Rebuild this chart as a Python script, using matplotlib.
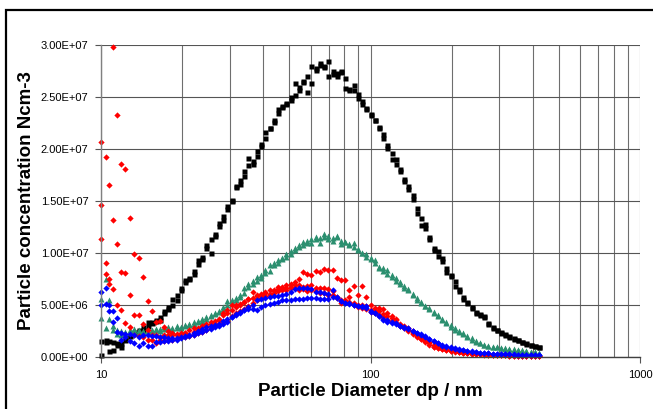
import numpy as np
import matplotlib.pyplot as plt
from matplotlib.ticker import FixedLocator, FuncFormatter, NullFormatter
from matplotlib.patches import Rectangle

plt.rcParams['font.family'] = ['Liberation Sans', 'DejaVu Sans']

# SMPS channel mid-point diameters (nm)
diameter = [
    10.0, 10.4, 10.7, 11.1, 11.5, 11.9, 12.3, 12.8, 13.3, 13.8,
    14.3, 14.9, 15.4, 16.0, 16.5, 17.1, 17.8, 18.4, 19.1, 19.8,
    20.5, 21.3, 22.1, 22.9, 23.7, 24.6, 25.5, 26.4, 27.4, 28.4,
    29.4, 30.5, 31.6, 32.8, 34.0, 35.2, 36.5, 37.9, 39.2, 40.7,
    42.2, 43.7, 45.3, 47.0, 48.7, 50.5, 52.3, 54.2, 56.2, 58.3,
    60.4, 62.6, 64.9, 67.3, 69.8, 72.3, 75.0, 77.7, 80.6, 83.5,
    86.6, 89.8, 93.1, 96.5, 100.0, 103.7, 107.5, 111.4, 115.5, 119.7,
    124.1, 128.6, 133.2, 138.2, 143.3, 148.6, 154.0, 159.6, 165.5, 171.5,
    177.8, 184.3, 191.1, 198.1, 205.4, 212.9, 220.7, 228.8, 237.2, 245.8,
    254.8, 264.2, 273.8, 283.9, 294.3, 305.1, 316.2, 327.8, 339.8, 352.3,
    365.2, 378.6, 392.4, 406.8, 421.7,
]

# number concentrations, units of 1e6 cm-3, two or three scans per run
black_a = [
    1.5, 1.4, 1.5, 0.7, 1.2, 1.3, 1.6, 2.0, 2.3, 2.5,
    2.6, 3.0, 3.3, 3.5, 3.6, 4.2, 4.6, 5.0, 5.5, 6.4,
    7.2, 7.6, 8.0, 8.9, 9.6, 10.5, 10.0, 11.6, 12.6, 13.2,
    14.2, 15.0, 16.3, 16.6, 17.4, 18.5, 18.8, 19.3, 20.5, 21.6,
    22.0, 22.6, 23.5, 24.0, 24.3, 24.7, 25.2, 26.0, 26.4, 27.0,
    28.0, 27.6, 28.3, 28.0, 28.5, 27.2, 27.3, 27.4, 26.8, 25.8,
    26.2, 25.3, 24.6, 23.9, 23.4, 22.8, 22.1, 21.1, 20.4, 19.6,
    19.0, 18.1, 17.1, 16.2, 15.2, 14.3, 13.4, 12.8, 11.5, 10.5,
    10.2, 9.5, 8.6, 7.9, 7.3, 6.5, 5.8, 5.3, 4.8, 4.3,
    4.1, 3.8, 3.3, 2.9, 2.6, 2.4, 2.2, 2.0, 1.8, 1.65,
    1.45, 1.3, 1.2, 1.1, 1.0,
]
black_b = [
    0.2, 1.6, 0.6, 1.4, 1.3, 1.0, 1.9, 2.1, 2.4, 2.6,
    2.9, 3.4, 3.4, 3.6, 3.8, 4.4, 4.8, 5.6, 6.0, 6.6,
    7.4, 7.5, 8.3, 9.3, 9.4, 10.8, 11.3, 11.8, 12.9, 13.6,
    14.5, 15.1, 16.4, 17.0, 17.9, 19.1, 18.6, 19.8, 20.3, 21.1,
    22.0, 22.8, 23.8, 24.1, 24.4, 25.0, 26.3, 25.7, 26.5, 25.5,
    26.3, 27.8, 28.1, 27.9, 27.0, 27.5, 27.0, 27.5, 25.9, 25.7,
    25.7, 24.9, 24.3, 23.8, 23.3, 22.8, 22.0, 21.4, 20.1, 19.0,
    18.6, 17.9, 16.9, 16.4, 15.6, 13.8, 12.7, 12.4, 11.3, 10.3,
    9.7, 9.2, 8.2, 7.8, 6.8, 6.3, 5.6, 5.2, 4.7, 4.2,
    4.0, 3.9, 3.2, 2.8, 2.6, 2.3, 2.1, 1.9, 1.75, 1.6,
    1.4, 1.25, 1.15, 1.05, 0.95,
]
teal_a = [
    5.6, 7.5, 5.5, 3.0, 2.6, 2.5, 2.4, 2.6, 2.7, 2.6,
    2.5, 2.5, 2.6, 2.7, 2.7, 2.9, 2.9, 2.8, 3.0, 2.9,
    3.1, 3.2, 3.4, 3.5, 3.7, 3.85, 4.0, 4.2, 4.4, 4.8,
    5.4, 5.5, 5.7, 6.0, 6.6, 7.0, 7.3, 7.7, 7.9, 8.4,
    8.8, 9.0, 9.3, 9.4, 9.9, 10.2, 10.5, 10.8, 11.1, 11.0,
    11.3, 11.5, 11.4, 11.8, 11.6, 11.4, 11.5, 11.2, 11.1, 10.9,
    11.0, 10.4, 10.0, 9.9, 9.5, 9.3, 8.7, 8.6, 8.4, 7.9,
    7.6, 7.2, 6.8, 6.4, 6.0, 5.5, 5.2, 4.9, 4.6, 4.2,
    3.9, 3.6, 3.3, 2.9, 2.6, 2.4, 2.2, 1.9, 1.6, 1.4,
    1.3, 1.2, 1.1, 1.0, 1.0, 0.9, 0.85, 0.8, 0.75, 0.7,
    0.65, 0.6, 0.5, 0.45, 0.4,
]
teal_b = [
    3.75, 2.8, 3.7, 2.6, 2.2, 2.1, 2.3, 2.4, 2.5, 2.4,
    2.3, 2.4, 2.5, 2.6, 2.5, 2.7, 2.7, 2.6, 2.8, 2.8,
    3.0, 3.1, 3.2, 3.4, 3.5, 3.7, 3.9, 4.1, 4.3, 4.6,
    5.0, 5.3, 5.5, 5.8, 6.2, 6.7, 7.0, 7.3, 7.6, 8.1,
    8.3, 8.8, 9.0, 9.5, 9.6, 9.9, 10.3, 10.6, 10.8, 11.2,
    11.0, 11.3, 11.0, 11.5, 11.3, 11.2, 11.6, 10.9, 11.1, 10.8,
    10.6, 10.3, 10.0, 9.6, 9.4, 9.0, 8.6, 8.3, 8.0, 7.7,
    7.3, 7.0, 6.6, 6.5, 6.1, 5.7, 5.3, 4.9, 4.7, 4.3,
    4.0, 3.7, 3.4, 3.1, 2.8, 2.5, 2.3, 2.0, 1.8, 1.5,
    1.3, 1.15, 1.1, 1.0, 0.95, 0.9, 0.8, 0.75, 0.7, 0.65,
    0.6, 0.55, 0.5, 0.45, 0.4,
]
red_a = [
    20.7, 19.2, 16.5, 29.8, 23.3, 18.6, 18.1, 13.4, 9.9, 9.5,
    7.7, 5.4, 4.4, 3.4, 3.5, 2.9, 2.5, 2.3, 2.2, 2.3,
    2.3, 2.6, 2.4, 2.8, 3.0, 3.0, 3.4, 3.2, 3.6, 4.2,
    4.5, 5.0, 5.0, 5.1, 5.3, 5.6, 6.25, 6.0, 6.1, 6.25,
    6.4, 6.4, 6.7, 6.7, 6.9, 7.05, 7.2, 7.5, 8.2, 8.0,
    7.85, 8.3, 8.2, 8.5, 8.4, 8.4, 7.6, 7.4, 7.4, 6.4,
    6.8, 6.0, 6.8, 5.8, 5.0, 4.7, 4.7, 4.6, 4.2, 3.9,
    3.7, 3.2, 3.0, 2.75, 2.5, 2.2, 2.0, 1.7, 1.45, 1.15,
    1.0, 0.85, 0.75, 0.7, 0.55, 0.5, 0.45, 0.4, 0.35, 0.3,
    0.3, 0.28, 0.25, 0.22, 0.2, 0.2, 0.18, 0.15, 0.15, 0.12,
    0.12, 0.1, 0.1, 0.1, 0.1,
]
red_b = [
    14.6, 9.0, 7.5, 13.2, 10.9, 8.2, 8.1, 6.0, 4.0, 4.0,
    3.2, 2.6, 2.1, 2.15, 1.9, 2.1, 2.1, 2.1, 2.1, 2.2,
    2.3, 2.1, 2.8, 2.6, 3.0, 3.2, 3.2, 3.5, 3.7, 4.0,
    4.2, 4.5, 4.8, 5.0, 5.3, 5.6, 5.7, 5.9, 6.0, 6.2,
    6.0, 6.3, 6.5, 6.4, 6.6, 6.7, 6.9, 6.9, 6.7, 6.8,
    6.9, 6.6, 6.6, 6.6, 6.5, 6.3, 5.8, 5.2, 5.5, 5.8,
    5.2, 5.0, 5.0, 4.9, 4.55, 4.55, 4.4, 4.1, 3.9, 3.75,
    3.6, 3.1, 2.9, 2.6, 2.3, 2.0, 1.7, 1.5, 1.35, 1.0,
    0.9, 0.8, 0.7, 0.6, 0.55, 0.45, 0.4, 0.35, 0.3, 0.3,
    0.25, 0.25, 0.2, 0.2, 0.18, 0.15, 0.15, 0.12, 0.12, 0.1,
    0.1, 0.1, 0.08, 0.08, 0.08,
]
red_c = [
    11.3, 8.0, 7.0, 6.5, 5.0, 4.55, 3.3, 2.9, 2.1, 2.0,
    1.9, 1.6, 1.6, 1.3, 1.6, 1.5, 1.6, 1.6, 1.7, 1.9,
    1.9, 2.0, 2.1, 2.3, 2.4, 2.6, 2.8, 3.0, 3.2, 3.4,
    3.5, 3.9, 4.2, 4.4, 4.6, 4.9, 5.2, 5.5, 5.7, 5.9,
    6.1, 6.2, 6.3, 6.5, 6.4, 6.6, 6.6, 6.4, 6.5, 6.3,
    6.4, 6.3, 6.2, 6.2, 6.0, 6.0, 5.7, 5.5, 5.3, 5.3,
    5.0, 4.8, 4.7, 4.6, 4.3, 4.2, 4.0, 3.8, 3.6, 3.5,
    3.3, 3.0, 2.8, 2.5, 2.2, 1.9, 1.7, 1.4, 1.2, 1.0,
    0.85, 0.75, 0.65, 0.55, 0.5, 0.45, 0.4, 0.35, 0.3, 0.28,
    0.25, 0.22, 0.2, 0.2, 0.18, 0.15, 0.15, 0.12, 0.12, 0.1,
    0.1, 0.1, 0.08, 0.08, 0.08,
]
blue_a = [
    6.25, 6.6, 5.0, 4.4, 3.75, 2.3, 2.2, 2.2, 2.1, 1.9,
    2.1, 2.1, 2.0, 2.0, 1.9, 1.9, 1.8, 1.8, 1.8, 1.9,
    2.0, 2.1, 2.3, 2.5, 2.7, 2.9, 3.0, 3.1, 3.2, 3.5,
    3.7, 3.85, 4.1, 4.3, 4.5, 4.8, 5.0, 5.45, 5.6, 5.7,
    5.8, 5.85, 5.9, 6.0, 6.1, 6.25, 6.5, 6.6, 6.6, 6.6,
    6.5, 6.25, 6.25, 6.2, 6.1, 6.4, 5.8, 5.35, 5.2, 5.2,
    5.0, 4.9, 4.9, 4.9, 4.4, 4.2, 3.9, 3.7, 3.6, 3.4,
    3.3, 3.0, 2.85, 2.8, 2.5, 2.3, 2.2, 2.0, 1.7, 1.5,
    1.3, 1.2, 1.1, 0.96, 0.85, 0.75, 0.7, 0.6, 0.55, 0.45,
    0.4, 0.38, 0.35, 0.33, 0.3, 0.3, 0.28, 0.26, 0.25, 0.24,
    0.22, 0.2, 0.2, 0.2, 0.18,
]
blue_b = [
    5.0, 5.1, 4.4, 3.4, 2.4, 1.6, 1.9, 1.5, 1.3, 1.1,
    1.3, 1.1, 1.1, 1.4, 1.4, 1.5, 1.5, 1.6, 1.6, 1.8,
    1.9, 2.0, 2.1, 2.3, 2.4, 2.6, 2.7, 2.9, 3.0, 3.2,
    3.4, 3.85, 4.0, 4.2, 4.5, 4.6, 4.6, 4.5, 4.8, 5.0,
    5.1, 5.2, 5.3, 5.45, 5.45, 5.45, 5.6, 5.6, 5.6, 5.7,
    5.7, 5.7, 5.6, 5.6, 5.6, 5.8, 5.7, 5.35, 5.2, 5.1,
    5.0, 4.9, 4.8, 4.7, 4.3, 4.2, 3.9, 3.6, 3.4, 3.3,
    3.2, 2.95, 2.8, 2.7, 2.5, 2.3, 2.1, 1.9, 1.7, 1.5,
    1.3, 1.1, 1.0, 0.9, 0.77, 0.7, 0.64, 0.55, 0.5, 0.45,
    0.4, 0.37, 0.35, 0.32, 0.3, 0.28, 0.26, 0.25, 0.24, 0.22,
    0.2, 0.2, 0.2, 0.18, 0.18,
]

dp = np.array(diameter)
scale = 1e6

fig = plt.figure(figsize=(6.53, 4.09), dpi=100)
ax = fig.add_axes([101 / 653, 1 - 357 / 409, 539 / 653, 312 / 409])

style = dict(ls='none', mec='none', clip_on=False)
for ys in (black_a, black_b):
    ax.plot(dp, np.array(ys) * scale, marker='s', ms=3.6, color='black', **style)
for ys in (teal_a, teal_b):
    ax.plot(dp, np.array(ys) * scale, marker='^', ms=4.0, color='#2b8f6f', **style)
for ys in (red_a, red_b, red_c):
    ax.plot(dp, np.array(ys) * scale, marker='D', ms=3.2, color='#ff0000', **style)
for ys in (blue_a, blue_b):
    ax.plot(dp, np.array(ys) * scale, marker='D', ms=3.2, color='#0000ff', **style)

ax.set_xscale('log')
ax.set_xlim(10, 1000)
ax.set_ylim(0, 3e7)

ax.xaxis.set_major_locator(FixedLocator([10, 100, 1000]))
ax.xaxis.set_minor_locator(FixedLocator([k * 10 ** e for e in (1, 2) for k in range(2, 10)]))
ax.xaxis.set_major_formatter(FuncFormatter(lambda v, p: f"{v:g}"))
ax.xaxis.set_minor_formatter(NullFormatter())
ax.set_yticks(np.arange(0, 3.01e7, 5e6))
ax.yaxis.set_major_formatter(FuncFormatter(lambda v, p: f"{v:.2E}"))

ax.grid(True, which='both', axis='x', color='#6e6e6e', lw=0.8)
ax.grid(True, which='major', axis='y', color='#555555', lw=0.8)
ax.set_axisbelow(True)

ax.tick_params(axis='both', which='major', labelsize=8, length=4, width=0.8,
               color='#555555', direction='out')
ax.tick_params(axis='y', pad=5)
ax.tick_params(axis='x', pad=5)
ax.tick_params(axis='x', which='minor', length=0)

for side in ('top', 'right'):
    ax.spines[side].set_visible(False)
ax.spines['left'].set_color('#808080')
ax.spines['bottom'].set_color('#404040')
ax.spines['left'].set_linewidth(1.0)
ax.spines['bottom'].set_linewidth(1.0)

fig.text(370 / 653, 1 - 391.5 / 409, 'Particle Diameter dp / nm',
         ha='center', va='center', fontsize=13.5, fontweight='bold')
fig.text(26.5 / 653, 1 - 201 / 409, 'Particle concentration Ncm-3',
         ha='center', va='center', rotation=90, fontsize=13.5, fontweight='bold')

# chart-area frame, running off the right and bottom edges
fig.patches.append(Rectangle((6 / 653, -0.05), 1.0, 1 - 10 / 409 + 0.05,
                             transform=fig.transFigure, fill=False,
                             edgecolor='black', lw=1.6))

fig.savefig('out.png', dpi=100)
